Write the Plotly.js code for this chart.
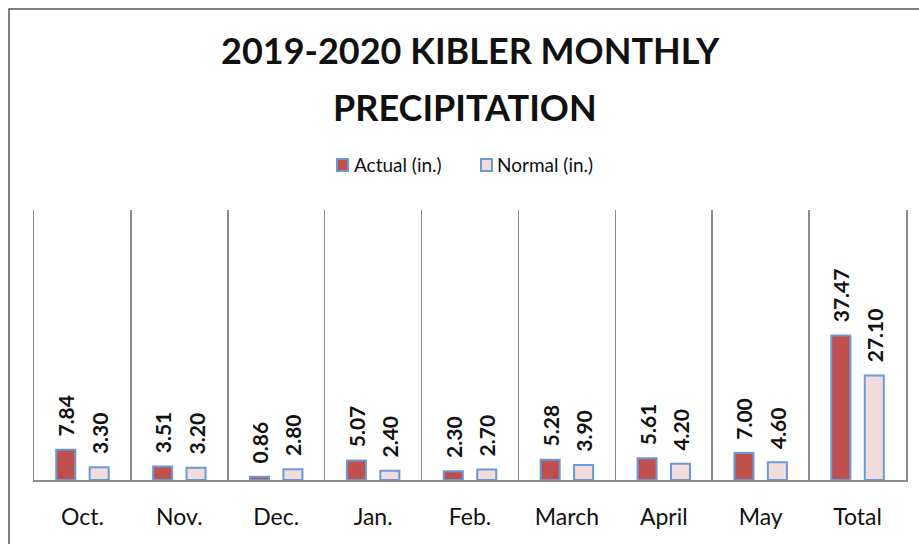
<!DOCTYPE html>
<html>
<head>
<meta charset="utf-8">
<script src="https://cdn.plot.ly/plotly-3.0.1.min.js"></script>
<style>html,body{margin:0;padding:0;background:#fff;}#chart{width:919px;height:544px;}</style>
</head>
<body>
<div id="chart"></div>
<script>
const categories = ["Oct.", "Nov.", "Dec.", "Jan.", "Feb.", "March", "April", "May", "Total"];
const actual = [7.84, 3.51, 0.86, 5.07, 2.30, 5.28, 5.61, 7.00, 37.47];
const normal = [3.30, 3.20, 2.80, 2.40, 2.70, 3.90, 4.20, 4.60, 27.10];
const seriesNames = ["Actual (in.)", "Normal (in.)"];
const titleLines = ["2019-2020 KIBLER MONTHLY", "PRECIPITATION"];

const fontFam = "Lato, 'Open Sans', sans-serif";
const border = "#6A9AD6";
const fills = ["#C0504D", "#F2DCDB"];

// pixel -> paper helpers (plot area: x 34..906, y 210..480)
const L = 34, T = 210, W = 872, H = 270;
const px = x => (x - L) / W;
const py = y => (T + H - y) / H;

const mk = (vals, name, fill) => ({
  type: "bar",
  x: categories,
  y: vals,
  name: name,
  marker: {color: fill, line: {color: border, width: 2}},
  text: vals.map(v => "\u00a0\u00a0" + v.toFixed(2)),
  textposition: "outside",
  textangle: -90,
  cliponaxis: false,
  constraintext: "none",
  textfont: {family: fontFam, size: 21, color: "#111", weight: "bold"},
  hoverinfo: "skip"
});

const data = [mk(actual, seriesNames[0], fills[0]), mk(normal, seriesNames[1], fills[1])];

const annotations = [
  {text: titleLines[0], x: px(470), y: py(50)},
  {text: titleLines[1], x: px(465), y: py(107)}
].map(a => Object.assign(a, {
  xref: "paper", yref: "paper", xanchor: "center", yanchor: "middle", showarrow: false,
  font: {family: fontFam, size: 36, color: "#111", weight: "bold"}
}));

const legendX = [[337, 352], [481, 495]];
const shapes = [{
  type: "rect", xref: "paper", yref: "paper",
  x0: px(9), x1: 1.05, y0: -0.5, y1: py(9),
  line: {color: "#555", width: 1.5}, fillcolor: "rgba(0,0,0,0)", layer: "below"
}];
seriesNames.forEach((n, i) => {
  const [sx, tx] = legendX[i];
  shapes.push({
    type: "rect", xref: "paper", yref: "paper",
    x0: px(sx), x1: px(sx + 11), y0: py(171), y1: py(159),
    line: {color: border, width: 2}, fillcolor: fills[i]
  });
  annotations.push({
    text: n, xref: "paper", yref: "paper", x: px(tx), y: py(165),
    xanchor: "left", yanchor: "middle", showarrow: false,
    font: {family: fontFam, size: 19, color: "#111"}
  });
});

const layout = {
  width: 919, height: 544,
  margin: {l: L, r: 919 - L - W, t: T, b: 544 - T - H},
  paper_bgcolor: "#fff", plot_bgcolor: "#fff",
  barmode: "group",
  bargap: 0.31,
  bargroupgap: 0.43,
  showlegend: false,
  xaxis: {
    type: "category",
    tickson: "boundaries",
    showgrid: true, gridcolor: "#8c8c8c", gridwidth: 1.5,
    showline: true, linecolor: "#8c8c8c", linewidth: 2,
    ticks: "", ticklen: 0,
    ticklabelstandoff: 15,
    tickfont: {family: fontFam, size: 23, color: "#111"},
    fixedrange: true
  },
  yaxis: {
    range: [0, 70],
    showgrid: false, zeroline: false,
    showticklabels: false, ticks: "",
    showline: true, linecolor: "#8c8c8c", linewidth: 1.5, mirror: true,
    fixedrange: true
  },
  annotations: annotations,
  shapes: shapes
};

Plotly.newPlot("chart", data, layout, {staticPlot: true, displayModeBar: false});
</script>
</body>
</html>
